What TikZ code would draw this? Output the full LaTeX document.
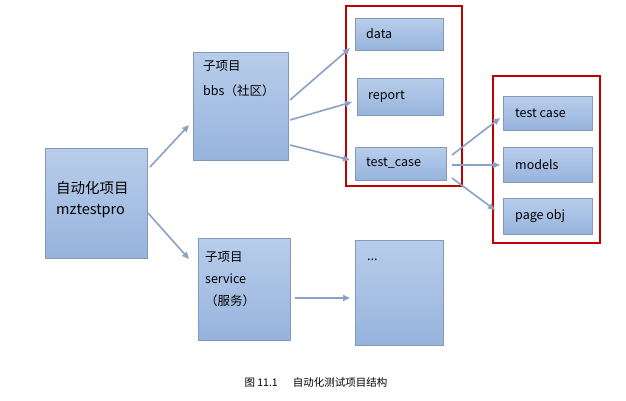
\documentclass[tikz,border=0pt]{standalone}
\usepackage{fontspec}
\setmainfont{Noto Sans CJK SC}
\usetikzlibrary{arrows.meta}
\definecolor{bx}{HTML}{8498BA}
\definecolor{arr}{HTML}{8AA2C4}
\definecolor{ftop}{HTML}{B8CDEB}
\definecolor{fbot}{HTML}{97B3DC}
\tikzset{
 bluebox/.style={draw=bx,line width=0.9pt,top color=ftop,bottom color=fbot,inner sep=0pt},
 lbl/.style={align=left,font=\fontsize{12.5}{17}\selectfont,inner sep=0pt},
 redbox/.style={draw=red!75!black,line width=1.4pt},
 con/.style={draw=arr,line width=1.6pt,-{Triangle[length=7pt,width=6pt]}}
}
\begin{document}
\begin{tikzpicture}[x=1pt,y=-1pt]
\useasboundingbox (0,0) rectangle (626,401);
\fill[white] (0,0) rectangle (626,401);
\node[bluebox,minimum width=102,minimum height=110,anchor=north west] (root) at (45,148) {};
\node[lbl,anchor=west,font=\fontsize{14.5}{21}\selectfont] at (56,200) {自动化项目\\mztestpro};
\node[bluebox,minimum width=95,minimum height=108,anchor=north west] (bbs) at (193,52) {};
\node[lbl,anchor=north west,font=\fontsize{12.5}{25}\selectfont] at (203,60) {子项目\\bbs（社区）};
\node[bluebox,minimum width=92,minimum height=102,anchor=north west] (svc) at (198,238) {};
\node[lbl,anchor=north west,font=\fontsize{12.5}{22}\selectfont] at (205,251) {子项目\\service\\（服务）};
\node[bluebox,minimum width=88,minimum height=32,anchor=north west] (data) at (355,18) {};
\node[lbl,anchor=west] at (366,34) {data};
\node[bluebox,minimum width=86,minimum height=37,anchor=north west] (report) at (357,78) {};
\node[lbl,anchor=west] at (368,97) {report};
\node[bluebox,minimum width=91,minimum height=33,anchor=north west] (tc) at (355,147) {};
\node[lbl,anchor=west] at (366,163) {test\_case};
\node[bluebox,minimum width=88,minimum height=105,anchor=north west] (dots) at (355,240) {};
\node[lbl,anchor=west] at (367,260) {...};
\node[bluebox,minimum width=89,minimum height=34,anchor=north west] (t1) at (503,96) {};
\node[lbl,anchor=west] at (515,113) {test case};
\node[bluebox,minimum width=89,minimum height=35,anchor=north west] (t2) at (503,147) {};
\node[lbl,anchor=west] at (515,165) {models};
\node[bluebox,minimum width=89,minimum height=36,anchor=north west] (t3) at (503,198) {};
\node[lbl,anchor=west] at (515,216) {page obj};
\draw[redbox] (346,6) rectangle (462,186);
\draw[redbox] (493,76) rectangle (600,243);
\coordinate (a1) at (150,167); \coordinate (b1) at (189,125);
\coordinate (a2) at (148,213); \coordinate (b2) at (189,259);
\draw[con] (a1) -- (b1);
\draw[con] (a2) -- (b2);
\draw[con] (290,100) -- (350,48);
\draw[con] (290,120) -- (352,102);
\draw[con] (290,145) -- (350,160);
\draw[con] (295,298) -- (350,298);
\draw[con] (452,155) -- (500,118);
\draw[con] (452,165) -- (500,165);
\draw[con] (452,178) -- (495,210);
\node[font=\fontsize{10.5}{12}\selectfont] (cap) at (316,383) {图 11.1\quad\ \ 自动化测试项目结构};
\end{tikzpicture}
\end{document}
